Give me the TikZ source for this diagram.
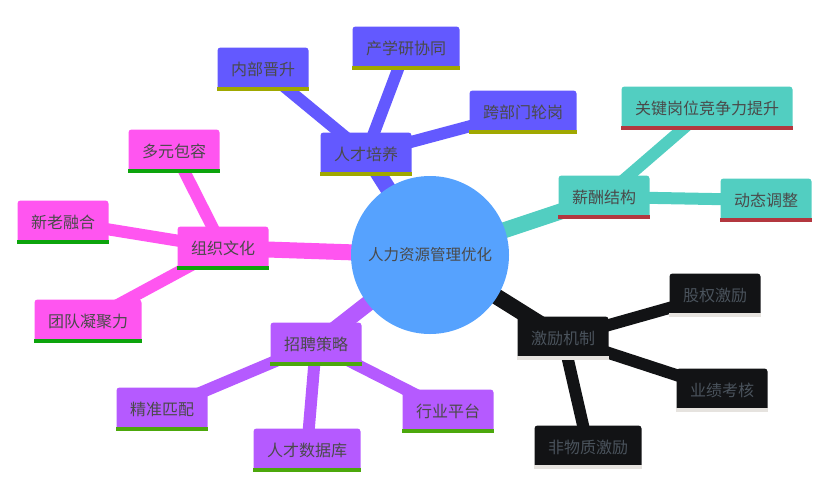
\documentclass[tikz,border=0pt]{standalone}
\usepackage{fontspec}
\setmainfont{Noto Sans CJK SC}
\usetikzlibrary{backgrounds}
\definecolor{hubblue}{HTML}{56A2FE}
\definecolor{inkgrey}{HTML}{4A4A4A}
\definecolor{darkink}{HTML}{4A535C}
\definecolor{violetbox}{HTML}{6359FF}
\definecolor{tealbox}{HTML}{52CEC1}
\definecolor{blackbox}{HTML}{121315}
\definecolor{pinkbox}{HTML}{FF55F0}
\definecolor{purplebox}{HTML}{B55AFF}
\definecolor{olivebar}{HTML}{A0A800}
\definecolor{redbar}{HTML}{B3373F}
\definecolor{greybar}{HTML}{E6E3DF}
\definecolor{greenbar}{HTML}{0CA40C}
\definecolor{grassbar}{HTML}{4CA80C}
\tikzset{
  hub/.style={circle,fill=hubblue,minimum size=158pt,inner sep=0pt,text=inkgrey,font=\fontsize{15.5}{18}\selectfont},
  topic/.style={rectangle,rounded corners=3pt,fill=#1,minimum height=43pt,inner xsep=13.5pt,inner ysep=0pt,text=inkgrey,font=\fontsize{16}{18}\selectfont},
  limb/.style={line width=16pt,draw=#1},
  twig/.style={line width=12pt,draw=#1},
}
\begin{document}
\begin{tikzpicture}[x=1pt,y=-1pt]
	\useasboundingbox (0,0) rectangle (840,485);
	% hub
	\node[hub] (hr) at (430,255) {人力资源管理优化};
	% talent development
	\node[topic=violetbox] (train) at (366,154) {人才培养};
	\node[topic=violetbox] (promote) at (263,69) {内部晋升};
	\node[topic=violetbox] (campus) at (406,48) {产学研协同};
	\node[topic=violetbox] (rotate) at (523,112) {跨部门轮岗};
	% pay
	\node[topic=tealbox] (pay) at (604,197) {薪酬结构};
	\node[topic=tealbox] (keypost) at (707,108) {关键岗位竞争力提升};
	\node[topic=tealbox] (adjust) at (766,200) {动态调整};
	% incentives
	\node[topic=blackbox,text=darkink] (reward) at (563,338) {激励机制};
	\node[topic=blackbox,text=darkink] (equity) at (715,295) {股权激励};
	\node[topic=blackbox,text=darkink] (review) at (722,390) {业绩考核};
	\node[topic=blackbox,text=darkink] (nonpay) at (588,447) {非物质激励};
	% culture
	\node[topic=pinkbox] (culture) at (223,248) {组织文化};
	\node[topic=pinkbox] (diverse) at (174,151) {多元包容};
	\node[topic=pinkbox] (blend) at (63,222) {新老融合};
	\node[topic=pinkbox] (unity) at (88,321) {团队凝聚力};
	% hiring
	\node[topic=purplebox] (hire) at (316,344) {招聘策略};
	\node[topic=purplebox] (match) at (162,409) {精准匹配};
	\node[topic=purplebox] (pool) at (307,450) {人才数据库};
	\node[topic=purplebox] (board) at (448,411) {行业平台};
	% bottom bars
	\foreach \n/\c in {train/olivebar,promote/olivebar,campus/olivebar,rotate/olivebar,
		pay/redbar,keypost/redbar,adjust/redbar,
		reward/greybar,equity/greybar,review/greybar,nonpay/greybar,
		culture/greenbar,diverse/greenbar,blend/greenbar,unity/greenbar,
		hire/grassbar,match/grassbar,pool/grassbar,board/grassbar}
		\fill[\c] (\n.south west) rectangle ([yshift=3.5pt]\n.south east);
	\begin{scope}[on background layer]
		\draw[limb=violetbox] (hr.center) -- (train.center);
		\draw[limb=tealbox] (hr.center) -- (pay.center);
		\draw[limb=blackbox] (hr.center) -- (reward.center);
		\draw[limb=pinkbox] (hr.center) -- (culture.center);
		\draw[limb=purplebox] (hr.center) -- (hire.center);
		\foreach \a/\b/\c in {train/promote/violetbox,train/campus/violetbox,train/rotate/violetbox,
			pay/keypost/tealbox,pay/adjust/tealbox,
			reward/equity/blackbox,reward/review/blackbox,reward/nonpay/blackbox,
			culture/diverse/pinkbox,culture/blend/pinkbox,culture/unity/pinkbox,
			hire/match/purplebox,hire/pool/purplebox,hire/board/purplebox}
			\draw[twig=\c] (\a.center) -- (\b.center);
	\end{scope}
\end{tikzpicture}
\end{document}
